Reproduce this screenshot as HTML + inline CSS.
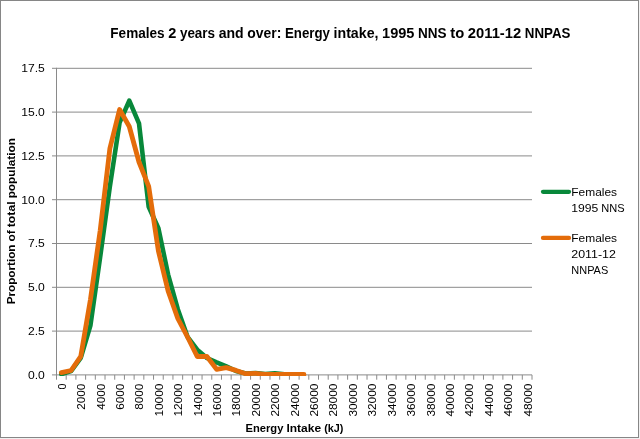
<!DOCTYPE html>
<html lang="en">
<head>
<meta charset="utf-8">
<title>Females 2 years and over: Energy intake, 1995 NNS to 2011-12 NNPAS</title>
<style>
html,body{margin:0;padding:0;background:#fff;}
body{width:640px;height:439px;overflow:hidden;}
svg{display:block;}
text{font-family:"Liberation Sans",sans-serif;fill:#000;}
.t{font-weight:bold;font-size:14.3px;}
.a{font-weight:bold;font-size:11.8px;}
.l{font-size:11.5px;}
.g{font-size:11.8px;}
</style>
</head>
<body>
<svg width="640" height="439" viewBox="0 0 640 439">
<rect x="0" y="0" width="640" height="439" fill="#f1f1f1"/>
<rect x="0.5" y="0.5" width="638" height="437" fill="#fff" stroke="#868686" stroke-width="1"/>

<g stroke="#8a8a8a" stroke-width="1" fill="none">
<line x1="52.00" y1="374.90" x2="532.00" y2="374.90"/>
<line x1="52.00" y1="331.10" x2="532.00" y2="331.10"/>
<line x1="52.00" y1="287.30" x2="532.00" y2="287.30"/>
<line x1="52.00" y1="243.50" x2="532.00" y2="243.50"/>
<line x1="52.00" y1="199.70" x2="532.00" y2="199.70"/>
<line x1="52.00" y1="155.90" x2="532.00" y2="155.90"/>
<line x1="52.00" y1="112.10" x2="532.00" y2="112.10"/>
<line x1="52.00" y1="68.30" x2="532.00" y2="68.30"/>
<line x1="56.50" y1="67.80" x2="56.50" y2="379.70"/>
<line x1="66.20" y1="374.90" x2="66.20" y2="379.70"/>
<line x1="75.91" y1="374.90" x2="75.91" y2="379.70"/>
<line x1="85.61" y1="374.90" x2="85.61" y2="379.70"/>
<line x1="95.32" y1="374.90" x2="95.32" y2="379.70"/>
<line x1="105.02" y1="374.90" x2="105.02" y2="379.70"/>
<line x1="114.72" y1="374.90" x2="114.72" y2="379.70"/>
<line x1="124.43" y1="374.90" x2="124.43" y2="379.70"/>
<line x1="134.13" y1="374.90" x2="134.13" y2="379.70"/>
<line x1="143.84" y1="374.90" x2="143.84" y2="379.70"/>
<line x1="153.54" y1="374.90" x2="153.54" y2="379.70"/>
<line x1="163.24" y1="374.90" x2="163.24" y2="379.70"/>
<line x1="172.95" y1="374.90" x2="172.95" y2="379.70"/>
<line x1="182.65" y1="374.90" x2="182.65" y2="379.70"/>
<line x1="192.36" y1="374.90" x2="192.36" y2="379.70"/>
<line x1="202.06" y1="374.90" x2="202.06" y2="379.70"/>
<line x1="211.77" y1="374.90" x2="211.77" y2="379.70"/>
<line x1="221.47" y1="374.90" x2="221.47" y2="379.70"/>
<line x1="231.17" y1="374.90" x2="231.17" y2="379.70"/>
<line x1="240.88" y1="374.90" x2="240.88" y2="379.70"/>
<line x1="250.58" y1="374.90" x2="250.58" y2="379.70"/>
<line x1="260.29" y1="374.90" x2="260.29" y2="379.70"/>
<line x1="269.99" y1="374.90" x2="269.99" y2="379.70"/>
<line x1="279.69" y1="374.90" x2="279.69" y2="379.70"/>
<line x1="289.40" y1="374.90" x2="289.40" y2="379.70"/>
<line x1="299.10" y1="374.90" x2="299.10" y2="379.70"/>
<line x1="308.81" y1="374.90" x2="308.81" y2="379.70"/>
<line x1="318.51" y1="374.90" x2="318.51" y2="379.70"/>
<line x1="328.21" y1="374.90" x2="328.21" y2="379.70"/>
<line x1="337.92" y1="374.90" x2="337.92" y2="379.70"/>
<line x1="347.62" y1="374.90" x2="347.62" y2="379.70"/>
<line x1="357.33" y1="374.90" x2="357.33" y2="379.70"/>
<line x1="367.03" y1="374.90" x2="367.03" y2="379.70"/>
<line x1="376.73" y1="374.90" x2="376.73" y2="379.70"/>
<line x1="386.44" y1="374.90" x2="386.44" y2="379.70"/>
<line x1="396.14" y1="374.90" x2="396.14" y2="379.70"/>
<line x1="405.85" y1="374.90" x2="405.85" y2="379.70"/>
<line x1="415.55" y1="374.90" x2="415.55" y2="379.70"/>
<line x1="425.26" y1="374.90" x2="425.26" y2="379.70"/>
<line x1="434.96" y1="374.90" x2="434.96" y2="379.70"/>
<line x1="444.66" y1="374.90" x2="444.66" y2="379.70"/>
<line x1="454.37" y1="374.90" x2="454.37" y2="379.70"/>
<line x1="464.07" y1="374.90" x2="464.07" y2="379.70"/>
<line x1="473.78" y1="374.90" x2="473.78" y2="379.70"/>
<line x1="483.48" y1="374.90" x2="483.48" y2="379.70"/>
<line x1="493.18" y1="374.90" x2="493.18" y2="379.70"/>
<line x1="502.89" y1="374.90" x2="502.89" y2="379.70"/>
<line x1="512.59" y1="374.90" x2="512.59" y2="379.70"/>
<line x1="522.30" y1="374.90" x2="522.30" y2="379.70"/>
<line x1="532.00" y1="374.90" x2="532.00" y2="379.70"/>
</g>
<defs><clipPath id="pc"><rect x="0" y="0" width="640" height="375.9"/></clipPath></defs>
<g clip-path="url(#pc)">
<polyline points="61.35,374.20 71.06,371.10 80.76,357.80 90.46,325.30 100.17,257.00 109.87,186.50 119.58,122.60 129.28,100.70 138.98,123.30 148.69,206.80 158.39,228.20 168.10,274.50 177.80,309.20 187.51,336.80 197.21,349.70 206.91,358.00 216.62,362.40 226.32,366.40 236.03,371.00 245.73,373.50 255.43,373.10 265.14,374.10 274.84,373.30 284.55,374.20" fill="none" stroke="#08883a" stroke-width="4.6" stroke-linecap="round" stroke-linejoin="round"/>
<polyline points="61.35,372.60 71.06,370.50 80.76,356.30 90.46,299.30 100.17,230.50 109.87,148.50 119.58,109.50 129.28,126.50 138.98,162.00 148.69,186.40 158.39,251.00 168.10,291.00 177.80,318.50 187.51,337.00 197.21,356.50 206.91,356.50 216.62,369.30 226.32,367.60 236.03,370.40 245.73,373.70 255.43,373.30 265.14,374.30 274.84,374.40 284.55,374.40 294.25,374.50 303.95,374.50" fill="none" stroke="#e46c0a" stroke-width="4.8" stroke-linecap="round" stroke-linejoin="round"/>
</g>
<text class="t" y="38"><tspan x="110.30" textLength="54.31" lengthAdjust="spacingAndGlyphs">Females</tspan> <tspan x="168.22" textLength="8.09" lengthAdjust="spacingAndGlyphs">2</tspan> <tspan x="179.92" textLength="35.14" lengthAdjust="spacingAndGlyphs">years</tspan> <tspan x="218.66" textLength="25.01" lengthAdjust="spacingAndGlyphs">and</tspan> <tspan x="247.28" textLength="34.05" lengthAdjust="spacingAndGlyphs">over:</tspan> <tspan x="284.93" textLength="45.00" lengthAdjust="spacingAndGlyphs">Energy</tspan> <tspan x="333.54" textLength="44.97" lengthAdjust="spacingAndGlyphs">intake,</tspan> <tspan x="382.11" textLength="32.36" lengthAdjust="spacingAndGlyphs">1995</tspan> <tspan x="418.08" textLength="28.57" lengthAdjust="spacingAndGlyphs">NNS</tspan> <tspan x="450.26" textLength="13.96" lengthAdjust="spacingAndGlyphs">to</tspan> <tspan x="467.82" textLength="53.42" lengthAdjust="spacingAndGlyphs">2011-12</tspan> <tspan x="524.85" textLength="45.65" lengthAdjust="spacingAndGlyphs">NNPAS</tspan></text>
<text class="l" x="27.92" y="378.70" textLength="16.88" lengthAdjust="spacingAndGlyphs">0.0</text>
<text class="l" x="27.92" y="334.90" textLength="16.88" lengthAdjust="spacingAndGlyphs">2.5</text>
<text class="l" x="27.92" y="291.10" textLength="16.88" lengthAdjust="spacingAndGlyphs">5.0</text>
<text class="l" x="27.92" y="247.30" textLength="16.88" lengthAdjust="spacingAndGlyphs">7.5</text>
<text class="l" x="21.16" y="203.50" textLength="23.64" lengthAdjust="spacingAndGlyphs">10.0</text>
<text class="l" x="21.16" y="159.70" textLength="23.64" lengthAdjust="spacingAndGlyphs">12.5</text>
<text class="l" x="21.16" y="115.90" textLength="23.64" lengthAdjust="spacingAndGlyphs">15.0</text>
<text class="l" x="21.16" y="72.10" textLength="23.64" lengthAdjust="spacingAndGlyphs">17.5</text>
<text class="l" transform="translate(65.75,389.56) rotate(-90)" textLength="5.96" lengthAdjust="spacingAndGlyphs">0</text>
<text class="l" transform="translate(85.16,409.83) rotate(-90)" textLength="26.23" lengthAdjust="spacingAndGlyphs">2000</text>
<text class="l" transform="translate(104.57,409.83) rotate(-90)" textLength="26.23" lengthAdjust="spacingAndGlyphs">4000</text>
<text class="l" transform="translate(123.98,409.83) rotate(-90)" textLength="26.23" lengthAdjust="spacingAndGlyphs">6000</text>
<text class="l" transform="translate(143.38,409.83) rotate(-90)" textLength="26.23" lengthAdjust="spacingAndGlyphs">8000</text>
<text class="l" transform="translate(162.79,416.59) rotate(-90)" textLength="32.99" lengthAdjust="spacingAndGlyphs">10000</text>
<text class="l" transform="translate(182.20,416.59) rotate(-90)" textLength="32.99" lengthAdjust="spacingAndGlyphs">12000</text>
<text class="l" transform="translate(201.61,416.59) rotate(-90)" textLength="32.99" lengthAdjust="spacingAndGlyphs">14000</text>
<text class="l" transform="translate(221.02,416.59) rotate(-90)" textLength="32.99" lengthAdjust="spacingAndGlyphs">16000</text>
<text class="l" transform="translate(240.43,416.59) rotate(-90)" textLength="32.99" lengthAdjust="spacingAndGlyphs">18000</text>
<text class="l" transform="translate(259.83,416.59) rotate(-90)" textLength="32.99" lengthAdjust="spacingAndGlyphs">20000</text>
<text class="l" transform="translate(279.24,416.59) rotate(-90)" textLength="32.99" lengthAdjust="spacingAndGlyphs">22000</text>
<text class="l" transform="translate(298.65,416.59) rotate(-90)" textLength="32.99" lengthAdjust="spacingAndGlyphs">24000</text>
<text class="l" transform="translate(318.06,416.59) rotate(-90)" textLength="32.99" lengthAdjust="spacingAndGlyphs">26000</text>
<text class="l" transform="translate(337.47,416.59) rotate(-90)" textLength="32.99" lengthAdjust="spacingAndGlyphs">28000</text>
<text class="l" transform="translate(356.87,416.59) rotate(-90)" textLength="32.99" lengthAdjust="spacingAndGlyphs">30000</text>
<text class="l" transform="translate(376.28,416.59) rotate(-90)" textLength="32.99" lengthAdjust="spacingAndGlyphs">32000</text>
<text class="l" transform="translate(395.69,416.59) rotate(-90)" textLength="32.99" lengthAdjust="spacingAndGlyphs">34000</text>
<text class="l" transform="translate(415.10,416.59) rotate(-90)" textLength="32.99" lengthAdjust="spacingAndGlyphs">36000</text>
<text class="l" transform="translate(434.51,416.59) rotate(-90)" textLength="32.99" lengthAdjust="spacingAndGlyphs">38000</text>
<text class="l" transform="translate(453.92,416.59) rotate(-90)" textLength="32.99" lengthAdjust="spacingAndGlyphs">40000</text>
<text class="l" transform="translate(473.32,416.59) rotate(-90)" textLength="32.99" lengthAdjust="spacingAndGlyphs">42000</text>
<text class="l" transform="translate(492.73,416.59) rotate(-90)" textLength="32.99" lengthAdjust="spacingAndGlyphs">44000</text>
<text class="l" transform="translate(512.14,416.59) rotate(-90)" textLength="32.99" lengthAdjust="spacingAndGlyphs">46000</text>
<text class="l" transform="translate(531.55,416.59) rotate(-90)" textLength="32.99" lengthAdjust="spacingAndGlyphs">48000</text>
<text class="a" transform="translate(15.3,304.3) rotate(-90)"><tspan x="0.00" textLength="59.73" lengthAdjust="spacingAndGlyphs">Proportion</tspan> <tspan x="62.73" textLength="11.33" lengthAdjust="spacingAndGlyphs">of</tspan> <tspan x="77.06" textLength="25.88" lengthAdjust="spacingAndGlyphs">total</tspan> <tspan x="105.94" textLength="60.19" lengthAdjust="spacingAndGlyphs">population</tspan></text>
<text class="a" y="432"><tspan x="245.50" textLength="37.89" lengthAdjust="spacingAndGlyphs">Energy</tspan> <tspan x="286.43" textLength="34.68" lengthAdjust="spacingAndGlyphs">Intake</tspan> <tspan x="324.15" textLength="19.27" lengthAdjust="spacingAndGlyphs">(kJ)</tspan></text>
<line x1="543" y1="191.8" x2="569" y2="191.8" stroke="#08883a" stroke-width="4.3" stroke-linecap="round"/>
<line x1="543" y1="237.9" x2="569" y2="237.9" stroke="#e46c0a" stroke-width="4.3" stroke-linecap="round"/>
<text class="g" y="196"><tspan x="571.30" textLength="45.76" lengthAdjust="spacingAndGlyphs">Females</tspan></text>
<text class="g" y="212"><tspan x="571.30" textLength="27.03" lengthAdjust="spacingAndGlyphs">1995</tspan> <tspan x="601.34" textLength="23.34" lengthAdjust="spacingAndGlyphs">NNS</tspan></text>
<text class="g" y="242"><tspan x="571.30" textLength="45.76" lengthAdjust="spacingAndGlyphs">Females</tspan></text>
<text class="g" y="258"><tspan x="571.30" textLength="44.63" lengthAdjust="spacingAndGlyphs">2011-12</tspan></text>
<text class="g" y="274"><tspan x="571.30" textLength="36.96" lengthAdjust="spacingAndGlyphs">NNPAS</tspan></text>
</svg>
</body>
</html>
